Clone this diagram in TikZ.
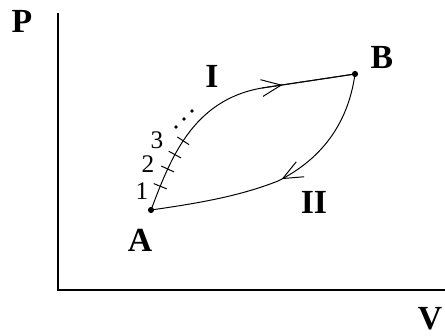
\documentclass[tikz,border=0pt]{standalone}
\usepackage{fontspec}
\setmainfont{Liberation Serif}
\usetikzlibrary{arrows.meta, decorations.markings}

\tikzset{
  axis/.style={line width=2pt},
  branch/.style={line width=0.7pt},
  biglabel/.style={font=\fontsize{24}{26}\bfseries\selectfont, inner sep=0pt},
  numlabel/.style={font=\fontsize{18}{20}\selectfont, inner sep=0pt},
  barb/.style={decoration={markings,
      mark=at position #1 with {\arrow{Straight Barb[length=14pt,width=12pt,line width=0.7pt]}}},
      postaction={decorate}},
  tick/.style={decoration={markings,
      mark=at position 0.095 with {\draw (0,-5pt) -- (0,5pt);},
      mark=at position 0.165 with {\draw (0,-5pt) -- (0,5pt);},
      mark=at position 0.225 with {\draw (0,-5pt) -- (0,5pt);},
      mark=at position 0.285 with {\draw (0,-5pt) -- (0,5pt);}},
      postaction={decorate}}
}

\begin{document}
\begin{tikzpicture}[x=0.25mm, y=-0.25mm]

    \useasboundingbox (0,0) rectangle (445,335);

    % ============================================================
    % AXES
    % ============================================================
    \coordinate (top) at (58,13);
    \coordinate (origin) at (58,290);
    \coordinate (right) at (445,290);
    \draw[axis] (top) -- (origin) -- (right);
    \node[biglabel] (P) at (22,21) {P};
    \node[biglabel] (V) at (430,319) {V};

    % ============================================================
    % STATES
    % ============================================================
    \coordinate (A) at (151,210);
    \coordinate (B) at (355,74);
    \fill (A) circle (2.2pt);
    \fill (B) circle (2.2pt);
    \node[biglabel] (Alab) at (140,240) {A};
    \node[biglabel] (Blab) at (382,57) {B};

    % ============================================================
    % PATH I (with steps 1, 2, 3 ...)
    % ============================================================
    \coordinate (Imid) at (262,88);
    \draw[branch, tick]
        (A) .. controls (170,160) and (192,100) .. (Imid) -- (B);
    \draw[branch, barb=0.22] (Imid) -- (B);
    \node[biglabel] (Ilab) at (212,76) {I};
    \node[numlabel] (one) at (142,191) {1};
    \node[numlabel] (two) at (148,164) {2};
    \node[numlabel] (three) at (157,140) {3};
    \foreach \x/\y in {176/127, 184/119, 192/111}
        \fill (\x,\y) circle (1.4pt);

    % ============================================================
    % PATH II
    % ============================================================
    \coordinate (IImid) at (278,181);
    \draw[branch, barb=0.97]
        (B) .. controls (348,125) and (320,160) .. (IImid);
    \draw[branch]
        (IImid) .. controls (240,196) and (200,203) .. (A);
    \node[biglabel] (IIlab) at (314,202) {II};

\end{tikzpicture}
\end{document}
